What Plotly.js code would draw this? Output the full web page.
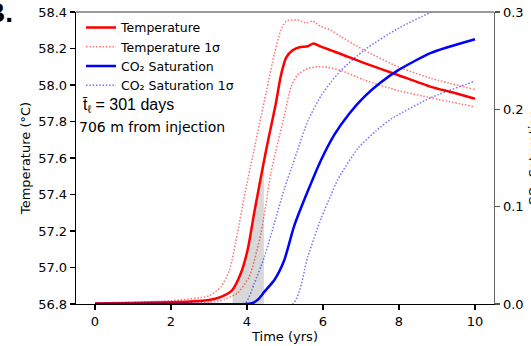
<!DOCTYPE html>
<html>
<head>
<meta charset="utf-8">
<script src="https://cdn.plot.ly/plotly-3.0.1.min.js"></script>
<style>html,body{margin:0;padding:0;background:#fff;}#chart{width:531px;height:346px;}</style>
</head>
<body>
<div id="chart"></div>
<script>
// ---- data ----
const timeT    = [0, 1, 2, 2.5, 3, 3.3, 3.6, 3.84, 4.02, 4.19, 4.37, 4.5, 4.63, 4.76, 4.89, 5.03, 5.2, 5.38, 5.6, 5.75, 5.95, 6.21, 6.47, 7.09, 7.97, 8.84, 9.4, 10];
const tempMean = [56.803, 56.806, 56.81, 56.814, 56.822, 56.838, 56.873, 56.97, 57.10, 57.30, 57.50, 57.64, 57.77, 57.90, 58.05, 58.15, 58.19, 58.207, 58.212, 58.228, 58.21, 58.19, 58.17, 58.12, 58.055, 57.99, 57.96, 57.925];

const timeTup  = [0, 1, 2, 3, 3.32, 3.54, 3.75, 3.93, 4.17, 4.5, 4.72, 4.89, 5.03, 5.33, 5.55, 5.73, 5.95, 6.21, 6.47, 7.09, 7.97, 8.84, 10];
const tempUp   = [56.806, 56.81, 56.818, 56.845, 56.895, 56.986, 57.19, 57.39, 57.63, 57.955, 58.17, 58.30, 58.35, 58.356, 58.34, 58.35, 58.32, 58.30, 58.265, 58.19, 58.10, 58.037, 57.975];

const timeTlo  = [0, 1, 2, 3, 3.4, 3.75, 4.06, 4.37, 4.63, 4.76, 4.98, 5.16, 5.33, 5.6, 5.86, 6.12, 6.47, 7.09, 7.97, 8.84, 10];
const tempLo   = [56.800, 56.802, 56.805, 56.81, 56.825, 56.86, 56.95, 57.19, 57.52, 57.64, 57.83, 57.99, 58.055, 58.09, 58.10, 58.097, 58.08, 58.027, 57.97, 57.93, 57.88];

const timeS    = [0, 2, 4.0, 4.15, 4.3, 4.46, 4.72, 4.98, 5.24, 5.6, 5.95, 6.3, 6.7, 7.09, 7.5, 7.97, 8.84, 10];
const satMean  = [0, 0, 0, 0.001, 0.005, 0.0127, 0.0247, 0.045, 0.08, 0.116, 0.148, 0.174, 0.196, 0.213, 0.227, 0.24, 0.258, 0.272];

const timeSup  = [0, 2, 3.93, 4.19, 4.46, 4.72, 4.98, 5.2, 5.33, 5.6, 5.95, 6.21, 6.47, 7.09, 7.97, 8.84, 10];
const satUp    = [0, 0, 0, 0.021, 0.0487, 0.083, 0.118, 0.143, 0.158, 0.188, 0.214, 0.228, 0.24, 0.261, 0.283, 0.2997, 0.318];

const timeSlo  = [0, 2, 5.2, 5.6, 5.95, 6.21, 6.39, 6.92, 7.4, 7.79, 8.84, 10];
const satLo    = [0, 0, 0, 0.0487, 0.088, 0.112, 0.128, 0.16, 0.178, 0.19, 0.212, 0.229];

const windowStart = 3.62;      // yrs
const windowDays  = 301;       // t-bar_l
const xTicks  = [0, 2, 4, 6, 8, 10];
const yTicks  = [56.8, 57.0, 57.2, 57.4, 57.6, 57.8, 58.0, 58.2, 58.4];
const y2Ticks = [0.0, 0.1, 0.2, 0.3];
const labels = {
  temp: 'Temperature', tempSig: 'Temperature 1σ',
  sat: 'CO₂ Saturation', satSig: 'CO₂ Saturation 1σ',
  xTitle: 'Time (yrs)', yTitle: 'Temperature (°C)', y2Title: 'CO₂ Saturation',
  panel: 'B.', dist: '706 m from injection'
};

// ---- shaded window under the temperature curve ----
const windowEnd = windowStart + windowDays / 365.25;
function interp(xs, ys, x) {
  for (let i = 1; i < xs.length; i++) {
    if (x <= xs[i]) { const f = (x - xs[i-1]) / (xs[i] - xs[i-1]); return ys[i-1] + f * (ys[i] - ys[i-1]); }
  }
  return ys[ys.length - 1];
}
const winX = [windowStart], winY = [interp(timeT, tempMean, windowStart)];
timeT.forEach((t, i) => { if (t > windowStart && t < windowEnd) { winX.push(t); winY.push(tempMean[i]); } });
winX.push(windowEnd); winY.push(interp(timeT, tempMean, windowEnd));

const RED = 'rgb(255,0,0)', BLUE = 'rgb(0,0,255)';
const REDL = 'rgba(255,0,0,0.55)', BLUEL = 'rgba(0,0,255,0.55)';
const DOT = '1.5px,1.8px';
const SM = 0.6;

const traces = [
  {x: winX, y: winY, type: 'scatter', mode: 'lines', fill: 'tozeroy', fillcolor: 'rgb(216,216,216)',
   line: {width: 0, shape: 'spline', smoothing: SM}, showlegend: false, hoverinfo: 'skip'},
  {x: timeT, y: tempMean, name: labels.temp, type: 'scatter', mode: 'lines',
   line: {color: RED, width: 2.5, shape: 'spline', smoothing: SM}},
  {x: timeTup, y: tempUp, name: labels.tempSig, legendgroup: 'ts', type: 'scatter', mode: 'lines',
   line: {color: REDL, width: 1.5, dash: DOT, shape: 'spline', smoothing: SM}},
  {x: timeTlo, y: tempLo, name: labels.tempSig, legendgroup: 'ts', showlegend: false, type: 'scatter', mode: 'lines',
   line: {color: REDL, width: 1.5, dash: DOT, shape: 'spline', smoothing: SM}},
  {x: timeS, y: satMean, name: labels.sat, yaxis: 'y2', type: 'scatter', mode: 'lines',
   line: {color: BLUE, width: 2.5, shape: 'spline', smoothing: SM}},
  {x: timeSup, y: satUp, name: labels.satSig, legendgroup: 'ss', yaxis: 'y2', type: 'scatter', mode: 'lines',
   line: {color: BLUEL, width: 1.5, dash: DOT, shape: 'spline', smoothing: SM}},
  {x: timeSlo, y: satLo, name: labels.satSig, legendgroup: 'ss', showlegend: false, yaxis: 'y2', type: 'scatter', mode: 'lines',
   line: {color: BLUEL, width: 1.5, dash: DOT, shape: 'spline', smoothing: SM}}
];

const tickFont = {family: 'DejaVu Sans', size: 13, color: '#000'};
const layout = {
  width: 531, height: 346,
  margin: {l: 76, r: 37, t: 12, b: 42},
  paper_bgcolor: '#fff', plot_bgcolor: '#fff',
  showlegend: true,
  legend: {x: 0.012, y: 0.997, xanchor: 'left', yanchor: 'top', bgcolor: 'rgba(0,0,0,0)',
           font: {family: 'DejaVu Sans', size: 12.5, color: '#000'}, tracegroupgap: 0, itemwidth: 30},
  xaxis: {range: [-0.5, 10.5], tickvals: xTicks, ticktext: xTicks.map(String), showgrid: false, zeroline: false,
          showline: true, linecolor: '#000', linewidth: 1.3, ticks: 'outside', ticklen: 5, tickwidth: 1.2, tickcolor: '#000',
          tickfont: tickFont, title: {text: labels.xTitle, font: tickFont, standoff: 2}},
  yaxis: {range: [56.8, 58.4], tickvals: yTicks, ticktext: yTicks.map(v => v.toFixed(1)), showgrid: false, zeroline: false,
          showline: true, linecolor: '#000', linewidth: 1.3, ticks: 'outside', ticklen: 5, tickwidth: 1.2, tickcolor: '#000',
          tickfont: tickFont, title: {text: labels.yTitle, font: tickFont, standoff: 4}},
  yaxis2: {range: [0, 0.3], overlaying: 'y', side: 'right', tickvals: y2Ticks, ticktext: y2Ticks.map(v => v.toFixed(1)),
          showgrid: false, zeroline: false, showline: true, linecolor: '#666', linewidth: 1.3,
          ticks: 'outside', ticklen: 5, tickwidth: 1.2, tickcolor: '#555', tickfont: tickFont},
  shapes: [{type: 'line', xref: 'paper', yref: 'paper', x0: 0, x1: 1, y0: 1, y1: 1, line: {color: '#777', width: 1.6}}],
  annotations: [
    {text: '<b>' + labels.panel + '</b>', xref: 'paper', yref: 'paper', x: -0.145, y: 0.938, xanchor: 'right', yanchor: 'bottom',
     showarrow: false, font: {family: 'Liberation Sans', size: 28, color: '#000'}},
    {text: 't\u0304<sub>ℓ</sub> = ' + windowDays + ' days', xref: 'paper', yref: 'paper', x: 0.01, y: 0.68, xanchor: 'left', yanchor: 'middle',
     showarrow: false, font: {family: 'Liberation Sans', size: 16, color: '#000'}},
    {text: labels.dist, xref: 'paper', yref: 'paper', x: 0.003, y: 0.606, xanchor: 'left', yanchor: 'middle',
     showarrow: false, font: {family: 'DejaVu Sans', size: 14, color: '#000'}},
    {text: labels.y2Title, xref: 'paper', yref: 'paper', x: 1.093, y: 0.5, xanchor: 'center', yanchor: 'middle', textangle: -90,
     showarrow: false, font: tickFont}
  ]
};

Plotly.newPlot('chart', traces, layout, {staticPlot: true, displayModeBar: false});
</script>
</body>
</html>
